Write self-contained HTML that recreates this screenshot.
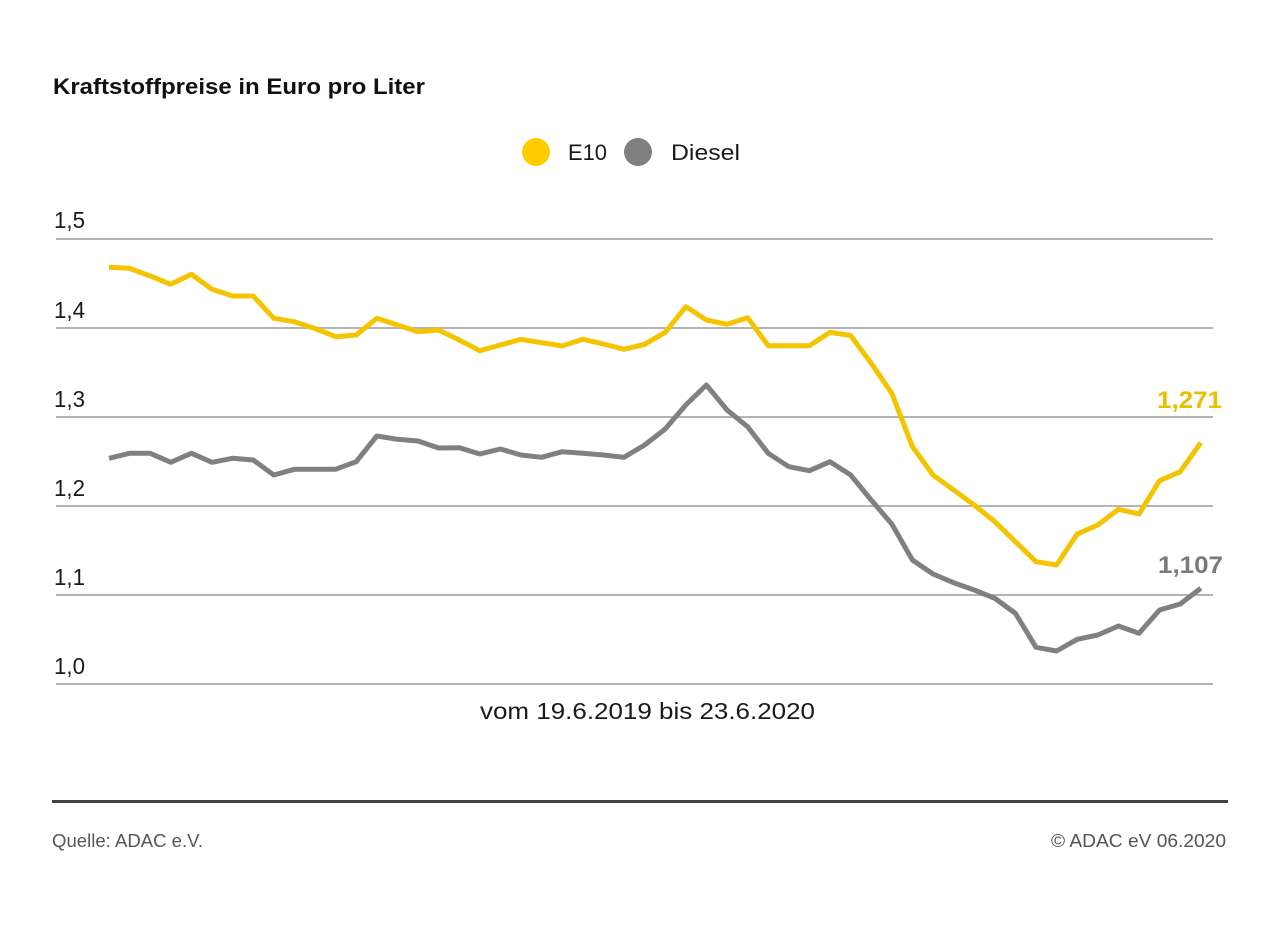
<!DOCTYPE html>
<html>
<head>
<meta charset="utf-8">
<style>
html,body{margin:0;padding:0;background:#fff;}
svg{display:block;}
text{font-family:"Liberation Sans",sans-serif;}
</style>
</head>
<body>
<svg width="1280" height="935" viewBox="0 0 1280 935" xmlns="http://www.w3.org/2000/svg">
<rect width="1280" height="935" fill="#fff"/>
<text x="53" y="94" font-size="22" font-weight="bold" fill="#111" textLength="372" lengthAdjust="spacingAndGlyphs">Kraftstoffpreise in Euro pro Liter</text>

<circle cx="536" cy="152" r="14" fill="#ffcc00"/>
<text x="568" y="160" font-size="22" fill="#1a1a1a" textLength="39" lengthAdjust="spacingAndGlyphs">E10</text>
<circle cx="638" cy="152" r="14" fill="#808080"/>
<text x="671" y="160" font-size="22" fill="#1a1a1a" textLength="69" lengthAdjust="spacingAndGlyphs">Diesel</text>

<g stroke="#b4b4b4" stroke-width="2">
<line x1="56" y1="239" x2="1213" y2="239"/>
<line x1="56" y1="328" x2="1213" y2="328"/>
<line x1="56" y1="417" x2="1213" y2="417"/>
<line x1="56" y1="506" x2="1213" y2="506"/>
<line x1="56" y1="595" x2="1213" y2="595"/>
<line x1="56" y1="684" x2="1213" y2="684"/>
</g>
<g font-size="23" fill="#1a1a1a">
<text x="54" y="228" textLength="31" lengthAdjust="spacingAndGlyphs">1,5</text>
<text x="54" y="318" textLength="31" lengthAdjust="spacingAndGlyphs">1,4</text>
<text x="54" y="407" textLength="31" lengthAdjust="spacingAndGlyphs">1,3</text>
<text x="54" y="496" textLength="31" lengthAdjust="spacingAndGlyphs">1,2</text>
<text x="54" y="585" textLength="31" lengthAdjust="spacingAndGlyphs">1,1</text>
<text x="54" y="674" textLength="31" lengthAdjust="spacingAndGlyphs">1,0</text>
</g>

<polyline fill="none" stroke="#808080" stroke-width="5" stroke-linejoin="round" points="109,458.3 129.6,453.3 150.2,453.3 170.8,462.3 191.4,453.3 212,462.3 232.6,458.3 253.2,460 273.8,475 294.4,469.3 315,469.3 335.6,469.3 356.2,461.7 376.8,436 397.4,439.3 418,441 438.6,448 459.2,447.7 479.8,454 500.4,449 521,455 541.6,457.3 562.2,451.7 582.8,453.3 603.4,455 624,457.3 644.6,445 665.2,429 685.8,405 706.4,385 727,410 747.6,426.7 768.2,453.3 788.8,466.7 809.4,470.7 830,461.7 850.6,475 871.2,500 891.8,524 912.4,560 933,574 953.6,582.7 974.2,590 994.8,598.3 1015.4,613.3 1036,647.3 1056.6,651 1077.2,639.3 1097.8,635 1118.4,626 1139,633.3 1159.6,610 1180.2,604 1200.8,588.3"/>

<polyline fill="none" stroke="#f5c400" stroke-width="5" stroke-linejoin="round" points="109,267.3 129.6,268.3 150.2,276 170.8,284.3 191.4,274.3 212,289.3 232.6,296 253.2,296 273.8,318.3 294.4,321.7 315,328.5 335.6,336.7 356.2,335 376.8,318.3 397.4,325 418,331.7 438.6,330 459.2,340 479.8,350.7 500.4,345 521,339.3 541.6,342.7 562.2,346 582.8,339.3 603.4,344 624,349.3 644.6,344.3 665.2,332.3 685.8,306.7 706.4,320 727,324.3 747.6,317.7 768.2,345.7 788.8,345.7 809.4,345.7 830,332.3 850.6,335.5 871.2,363.3 891.8,393.3 912.4,446.7 933,475 953.6,490 974.2,505 994.8,521.7 1015.4,541.7 1036,561.7 1056.6,565 1077.2,534 1097.8,525 1118.4,509.3 1139,514 1159.6,480.7 1180.2,471.7 1200.8,442.7"/>

<text x="1157" y="408" font-size="24" font-weight="bold" fill="#e8c000" textLength="65" lengthAdjust="spacingAndGlyphs">1,271</text>
<text x="1158" y="573" font-size="24" font-weight="bold" fill="#7a7a7a" textLength="65" lengthAdjust="spacingAndGlyphs">1,107</text>

<text x="480" y="719" font-size="23" fill="#1a1a1a" textLength="335" lengthAdjust="spacingAndGlyphs">vom 19.6.2019 bis 23.6.2020</text>

<rect x="52" y="800" width="1176" height="3" fill="#444"/>

<text x="52" y="847" font-size="18" fill="#555" textLength="151" lengthAdjust="spacingAndGlyphs">Quelle: ADAC e.V.</text>
<text x="1051" y="847" font-size="18" fill="#555" textLength="175" lengthAdjust="spacingAndGlyphs">© ADAC eV 06.2020</text>
</svg>
</body>
</html>
